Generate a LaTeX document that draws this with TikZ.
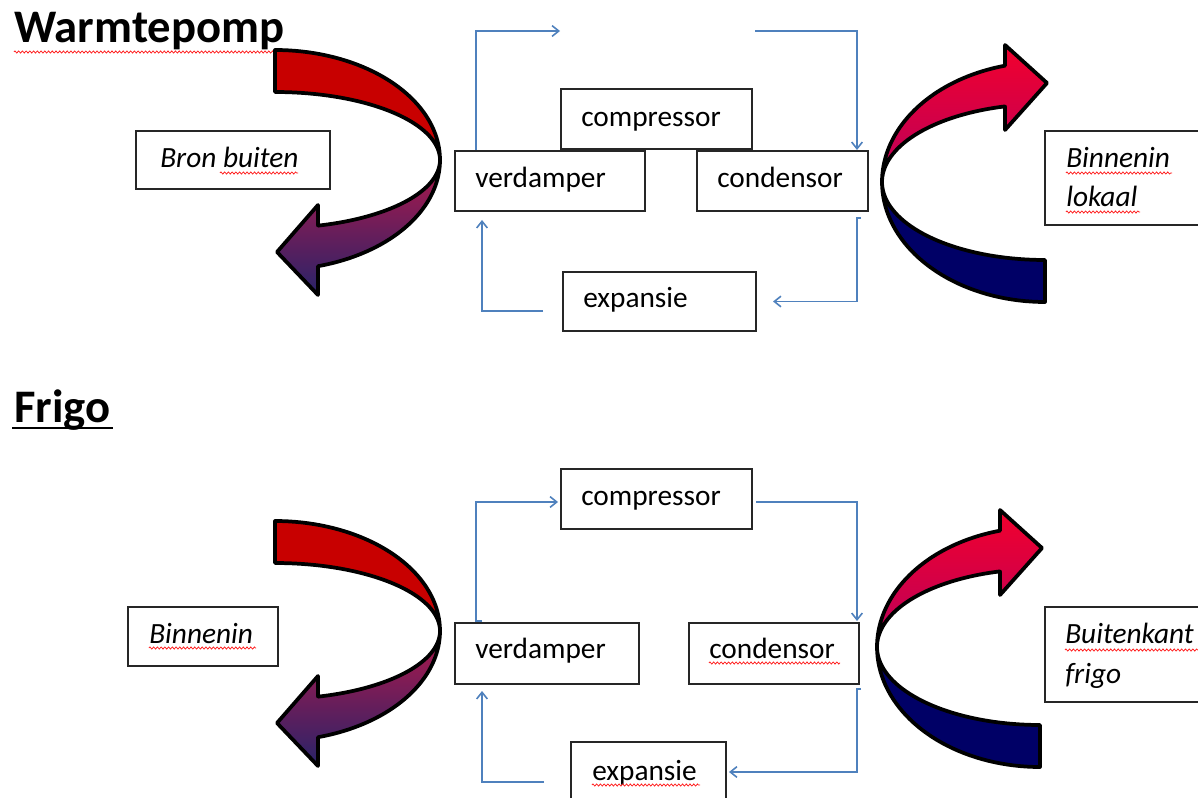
\documentclass[tikz,border=0pt]{standalone}
\usepackage{fontspec}
\setmainfont{Carlito}
\usetikzlibrary{arrows.meta,fit,calc,decorations.pathmorphing}
\definecolor{flow}{RGB}{79,129,189}
\definecolor{redsolid}{RGB}{200,0,0}
\definecolor{navysolid}{RGB}{0,0,102}
\definecolor{crimsontop}{RGB}{178,24,74}
\definecolor{purplebot}{RGB}{40,35,105}
\definecolor{brightred}{RGB}{242,0,45}
\definecolor{magentabot}{RGB}{185,0,92}
\begin{document}
\begin{tikzpicture}[x=0.75pt,y=-0.75pt,
  box/.style={draw=black!85, line width=1.5pt, inner sep=0pt, rectangle},
  txt/.style={anchor=base west, inner sep=0pt, font=\fontsize{22}{26}\selectfont},
  ltxt/.style={anchor=base west, inner sep=0pt, font=\fontsize{22}{26}\selectfont\itshape},
  ttl/.style={anchor=base west, inner sep=0pt, font=\fontsize{35}{40}\selectfont\bfseries},
  flowline/.style={draw=flow, line width=1.2pt, -{Straight Barb[length=5pt,width=8pt]}},
  spell/.style={draw=red!90!white, line width=0.55pt, decorate, decoration={zigzag, segment length=2.8pt, amplitude=0.8pt}},
  outline/.style={draw=black, line width=2.8pt, line join=round},
  leftcurve/.pic={
    \path[outline, fill=redsolid]
      plot[variable=\t, domain=270:360, samples=40] ({165*cos(\t)},{110*sin(\t)})
      -- plot[variable=\t, domain=360:270, samples=40] ({165*cos(\t)},{68*sin(\t)}) -- cycle;
    \path[outline, top color=crimsontop, bottom color=purplebot]
      plot[variable=\t, domain=0:74.9, samples=40] ({165*cos(\t)},{110*sin(\t)})
      -- (43,135) -- (2,92) -- (43,45) -- (43,65.7)
      -- plot[variable=\t, domain=74.9:0, samples=40] ({165*cos(\t)},{68*sin(\t)}) -- cycle;
  },
  rightcurve/.pic={
    \path[outline, fill=navysolid]
      plot[variable=\t, domain=90:180, samples=40] ({163*cos(\t)},{120*sin(\t)})
      -- plot[variable=\t, domain=180:90, samples=40] ({163*cos(\t)},{78*sin(\t)}) -- cycle;
    \path[outline, top color=brightred, bottom color=magentabot]
      plot[variable=\t, domain=180:255.8, samples=40] ({163*cos(\t)},{120*sin(\t)})
      -- (-40,-137) -- (2,-99) -- (-40,-52) -- (-40,-75.6)
      -- plot[variable=\t, domain=255.8:180, samples=40] ({163*cos(\t)},{78*sin(\t)}) -- cycle;
  }
]
\useasboundingbox (0,0) rectangle (1198,798);
\clip (0,0) rectangle (1198,798);
\fill[white] (0,0) rectangle (1198,798);

% ---------------- Warmtepomp ----------------
\node[ttl] (t1) at (14,43) {Warmtepomp};
\draw[spell] (14,52) -- (275,52);
\pic at (275,160) {leftcurve};
\pic at (1045,182) {rightcurve};

\node[box, fit={(561,89)(752,149)}] (cp1) {};
\node[txt] (cp1t) at (581,127) {compressor};
\node[box, fit={(455,151)(645,211)}] (vd1) {};
\node[txt] (vd1t) at (475,188) {verdamper};
\node[box, fit={(697,151)(868,211)}] (cd1) {};
\node[txt] (cd1t) at (717,188) {condensor};
\node[box, fit={(563,272)(756,331)}] (ex1) {};
\node[txt] (ex1t) at (583,308) {expansie};

\node[box, fit={(136,131)(330,189)}] (lb1) {};
\node[ltxt] (lb1t) at (160,168) {Bron buiten};
\draw[spell] (220,173) -- (298,173);
\node[box, fit={(1045,131)(1215,225)}] (lb2) {};
\node[ltxt] (lb2a) at (1066,168) {Binnenin};
\node[ltxt] (lb2b) at (1066,207) {lokaal};
\draw[spell] (1066,173) -- (1172,173);
\draw[spell] (1066,212) -- (1140,212);

\coordinate (c1end) at (560,31);
\coordinate (c2start) at (755,31);
\coordinate (c4start) at (543,311);
\draw[flowline] ($(vd1.north west)+(22,0)$) |- (c1end);
\draw[flowline] (c2start) -| ($(cd1.north east)+(-12,0)$);
\draw[flowline] ($(cd1.south east)+(-8,6)$) -- ++(-4,0) |- ($(ex1.east)+(16,0)$);
\draw[flowline] (c4start) -| ($(vd1.south west)+(28,8)$);

% ---------------- Frigo ----------------
\node[ttl] (t2) at (14,422) {Frigo};
\draw[line width=2.2pt] ($(t2.base west)+(-2,6)$) -- ($(t2.base east)+(2,6)$);
\pic at (275,631) {leftcurve};
\pic at (1040,647) {rightcurve};

\node[box, fit={(561,469)(752,529)}] (cp2) {};
\node[txt] (cp2t) at (581,505) {compressor};
\node[box, fit={(455,623)(639,684)}] (vd2) {};
\node[txt] (vd2t) at (475,658) {verdamper};
\node[box, fit={(689,623)(859,684)}] (cd2) {};
\node[txt] (cd2t) at (709,658) {condensor};
\draw[spell] (709,663) -- (840,663);
\node[box, fit={(571,742)(726,810)}] (ex2) {};
\node[txt] (ex2t) at (592,780) {expansie};
\draw[spell] (592,785) -- (700,785);

\node[box, fit={(128,607)(278,666)}] (lb3) {};
\node[ltxt] (lb3t) at (149,643) {Binnenin};
\draw[spell] (149,648) -- (256,648);
\node[box, fit={(1045,607)(1215,702)}] (lb4) {};
\node[ltxt] (lb4a) at (1065,643) {Buitenkant};
\node[ltxt] (lb4b) at (1065,683) {frigo};
\draw[spell] (1065,650) -- (1198,650);

\coordinate (d4start) at (544,782);
\draw[flowline] ($(vd2.north west)+(28,-1)$) -- ++(-6,0) |- ($(cp2.west)+(-2,3)$);
\draw[flowline] ($(cp2.east)+(3,3)$) -| ($(cd2.north east)+(-3,-1)$);
\draw[flowline] ($(cd2.south east)+(1,4)$) -- ++(-4,0) |- ($(ex2.east)+(2,-4)$);
\draw[flowline] (d4start) -| ($(vd2.south west)+(28,6)$);
\end{tikzpicture}
\end{document}
